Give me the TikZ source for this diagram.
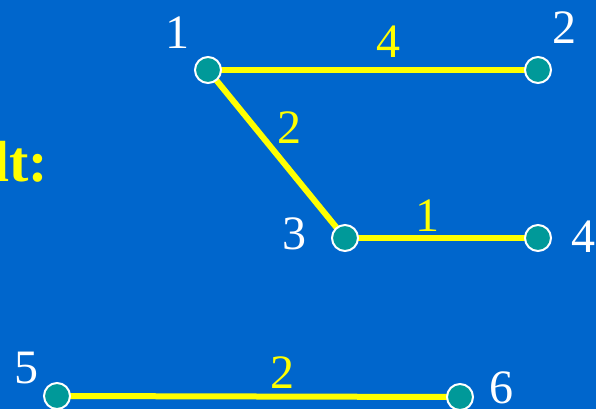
\documentclass[tikz,border=0pt]{standalone}
\usepackage{fontspec}
\setmainfont{Liberation Serif}
\definecolor{bg}{HTML}{0066CC}
\definecolor{vfill}{HTML}{009999}
\definecolor{edgey}{HTML}{FFFF00}
\begin{document}
\begin{tikzpicture}[x=1pt,y=-1pt,
  vert/.style={circle,fill=vfill,draw=white,line width=2pt,minimum size=26pt,inner sep=0pt},
  edge/.style={draw=edgey,line width=6pt},
  vlab/.style={text=white,font=\fontsize{48}{48}\selectfont,inner sep=0pt},
  elab/.style={text=edgey,font=\fontsize{48}{48}\selectfont,inner sep=0pt}]
\fill[bg] (0,0) rectangle (596,409);
\useasboundingbox (0,0) rectangle (596,409);
\clip (0,0) rectangle (596,409);
\node[text=edgey,font=\fontsize{58}{58}\selectfont\bfseries,inner sep=0pt,anchor=base east] (title) at (48,181) {lt:};
\coordinate (p1) at (208,70);
\coordinate (p2) at (538,70);
\coordinate (p3) at (345,238);
\coordinate (p4) at (538,238);
\coordinate (p5) at (57,396);
\coordinate (p6) at (460,397);
\draw[edge] (p1) -- (p2);
\draw[edge] (p1) -- (p3);
\draw[edge] (p3) -- (p4);
\draw[edge] (p5) -- (p6);
\node[vert] (v1) at (p1) {};
\node[vert] (v2) at (p2) {};
\node[vert] (v3) at (p3) {};
\node[vert] (v4) at (p4) {};
\node[vert] (v5) at (p5) {};
\node[vert] (v6) at (p6) {};
\node[vlab] (l1) at (177,33) {1};
\node[vlab] (l2) at (564,28) {2};
\node[vlab] (l3) at (294,234) {3};
\node[vlab] (l4) at (583,237) {4};
\node[vlab] (l5) at (26,368) {5};
\node[vlab] (l6) at (501,388) {6};
\node[elab] (e12) at (388,42) {4};
\node[elab] (e13) at (289,128) {2};
\node[elab] (e34) at (427,216) {1};
\node[elab] (e56) at (282,373) {2};
\end{tikzpicture}
\end{document}
